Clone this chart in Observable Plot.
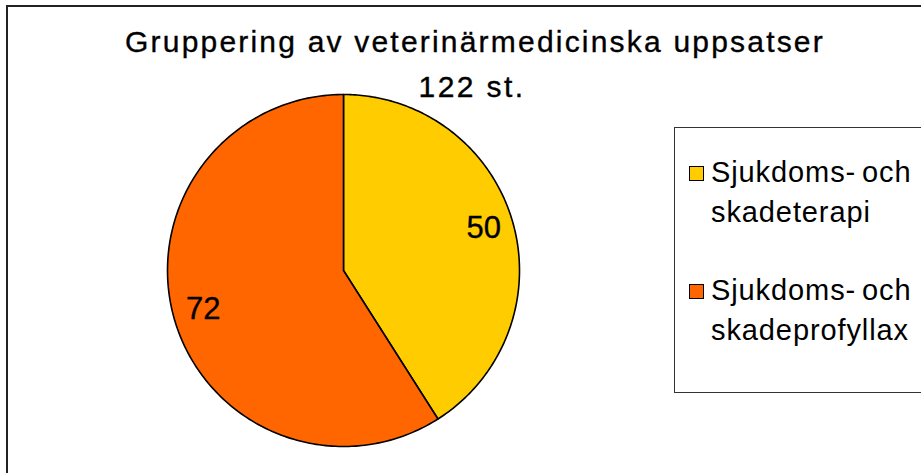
<!DOCTYPE html>
<html>
<head>
<meta charset="utf-8">
<script src="https://cdn.jsdelivr.net/npm/d3@7"></script>
<script src="https://cdn.jsdelivr.net/npm/@observablehq/plot@0.6"></script>
<style>
  html, body { margin: 0; padding: 0; background: #fff; }
  body { width: 921px; height: 473px; overflow: hidden; position: relative; font-family: "Liberation Sans", Arial, sans-serif; }
  #frame { position: absolute; left: 6px; top: 5px; width: 1000px; height: 600px; border: 2px solid #222; box-sizing: border-box; }
  #chart { position: absolute; left: 0; top: 0; }
  #title { position: absolute; left: 0; width: 950px; top: 25px; text-align: center; font-size: 30px; letter-spacing: 2.2px; color: #000; white-space: nowrap; -webkit-text-stroke: 0.35px #000; }
  #subtitle { position: absolute; left: 0; width: 944px; top: 70px; text-align: center; font-size: 30px; letter-spacing: 2.4px; color: #000; -webkit-text-stroke: 0.35px #000; }
  #legend { position: absolute; left: 674px; top: 127px; width: 400px; height: 266px; border: 1px solid #333; box-sizing: border-box; background: #fff; }
  .item { position: absolute; left: 14px; font-size: 29px; line-height: 40px; letter-spacing: 0.9px; word-spacing: -3px; color: #000; }
  .sw { position: absolute; left: 0; top: 14px; width: 13px; height: 13px; border: 1px solid #000; }
  .lab { position: absolute; left: 22px; top: 0; white-space: nowrap; }
</style>
</head>
<body>
<div id="frame"></div>
<div id="chart"></div>
<div id="title"></div>
<div id="subtitle"></div>
<div id="legend"></div>
<script>
const categories = ["Sjukdoms- och skadeterapi", "Sjukdoms- och skadeprofyllax"];
const legendLines = [["Sjukdoms- och", "skadeterapi"], ["Sjukdoms- och", "skadeprofyllax"]];
const values = [50, 72];
const colors = ["#FFCC00", "#FF6600"];
const titleText = "Gruppering av veterinärmedicinska uppsatser";
const subtitleText = "122 st.";

const W = 921, H = 473, cx = 343, cy = 270, R = 176;

const arcs = d3.pie().sort(null)(values);
const pts = [];
arcs.forEach((a, i) => {
  const cat = categories[i];
  pts.push({cat, x: 0, y: 0});
  const n = 200;
  for (let k = 0; k <= n; k++) {
    const t = a.startAngle + (a.endAngle - a.startAngle) * k / n;
    pts.push({cat, x: Math.sin(t), y: Math.cos(t)});
  }
  pts.push({cat, x: 0, y: 0});
});
const labels = arcs.map((a, i) => {
  const m = (a.startAngle + a.endAngle) / 2;
  return {x: 0.83 * Math.sin(m), y: 0.83 * Math.cos(m), text: String(values[i])};
});

const plot = Plot.plot({
  width: W, height: H,
  margin: 0,
  x: {domain: [-cx / R, (W - cx) / R], range: [0, W], axis: null},
  y: {domain: [-(H - cy) / R, cy / R], range: [H, 0], axis: null},
  color: {domain: categories, range: colors},
  style: {background: "transparent", overflow: "visible"},
  marks: [
    Plot.line(pts, {x: "x", y: "y", z: "cat", fill: "cat", stroke: "#000", strokeWidth: 1.6, strokeLinejoin: "round", curve: "linear"}),
    Plot.text(labels, {x: "x", y: "y", text: "text", dy: -2, fontSize: 31, fill: "#000", stroke: "#000", strokeWidth: 0.35, fontFamily: "Liberation Sans, Arial, sans-serif", style: "letter-spacing: 2px"})
  ]
});
document.getElementById("chart").appendChild(plot);
document.getElementById("title").textContent = titleText;
document.getElementById("subtitle").textContent = subtitleText;

const legend = document.getElementById("legend");
legendLines.forEach((lines, i) => {
  const item = document.createElement("div");
  item.className = "item";
  item.style.top = (24 + i * 118) + "px";
  const sw = document.createElement("div");
  sw.className = "sw";
  sw.style.background = colors[i];
  const lab = document.createElement("div");
  lab.className = "lab";
  lab.innerHTML = lines.join("<br>");
  item.appendChild(sw);
  item.appendChild(lab);
  legend.appendChild(item);
});
</script>
</body>
</html>
